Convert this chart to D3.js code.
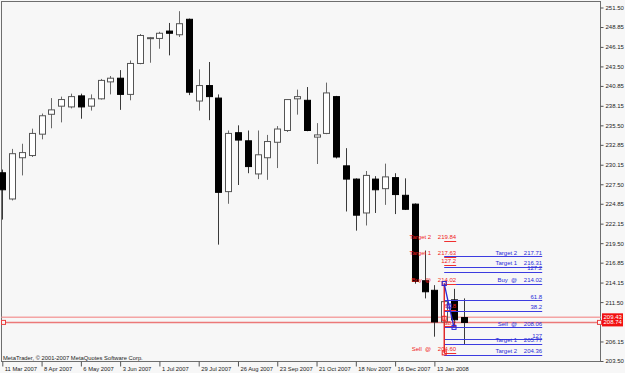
<!DOCTYPE html>
<html>
<head>
<meta charset="utf-8">
<script src="https://cdnjs.cloudflare.com/ajax/libs/d3/7.8.5/d3.min.js"></script>
<style>
  body { margin: 0; background: #f7f7f7; }
  svg { display: block; font-family: "Liberation Sans", Arial, sans-serif; }
</style>
</head>
<body>
<script>
//wrap everything in a self-executing function
(function(){

    //weekly bars, 11 Mar 2007 .. 3 Feb 2008
    var opens  = [229.06, 225.5, 231.1, 231.4, 234.3, 237.0, 238.1, 238.0, 239.5, 238.1, 239.1, 241.4,
                  241.9, 239.7, 243.9, 247.3, 247.3, 248.3, 247.8, 249.9, 238.8, 240.9, 239.2, 226.5,
                  234.5, 233.4, 228.9, 231.1, 233.2, 234.8, 239.1, 238.9, 233.9, 234.4, 239.4, 230.0,
                  228.2, 223.6, 228.2, 226.9, 228.4, 226.0, 224.8, 214.4, 213.1, 208.8, 211.8, 209.4];
    var highs  = [229.5, 232.3, 233.0, 235.05, 237.1, 239.2, 239.4, 239.8, 239.8, 239.7, 241.8, 242.2,
                  243.0, 244.3, 247.9, 247.5, 248.2, 249.4, 251.0, 250.0, 243.1, 244.1, 239.7, 234.8,
                  235.5, 234.8, 234.8, 234.2, 235.4, 239.0, 240.35, 240.7, 235.8, 241.3, 239.5, 232.4,
                  228.3, 229.3, 228.6, 230.3, 229.0, 228.3, 224.9, 218.5, 213.8, 214.02, 213.3, 212.0];
    var lows   = [222.7, 225.3, 228.7, 231.2, 233.6, 235.1, 235.9, 237.8, 236.4, 237.5, 239.0, 239.7,
                  237.6, 238.9, 243.8, 244.0, 245.9, 245.0, 247.5, 239.6, 237.5, 236.2, 219.3, 224.85,
                  227.4, 229.0, 228.2, 228.1, 229.7, 234.6, 236.95, 234.7, 230.25, 234.3, 231.0, 223.8,
                  221.2, 221.9, 223.6, 224.7, 223.45, 224.0, 214.0, 212.0, 206.8, 204.6, 208.06, 205.7];
    var closes = [226.75, 231.65, 231.8, 234.4, 236.8, 237.6, 239.0, 239.4, 238.0, 239.1, 241.6, 241.9,
                  239.7, 243.9, 247.7, 247.4, 248.0, 248.0, 249.3, 240.0, 240.9, 239.4, 226.4, 234.4,
                  233.5, 229.9, 231.5, 233.3, 235.0, 239.0, 239.4, 234.8, 234.2, 239.9, 231.2, 228.2,
                  223.3, 228.7, 226.75, 228.5, 226.1, 224.1, 214.3, 212.9, 208.8, 211.56, 209.1, 208.74];

    //time axis labels, every 4th bar
    var dateTickIndex = [0, 4, 8, 12, 16, 20, 24, 28, 32, 36, 40, 44];
    var dateLabels = ["11 Mar 2007", "8 Apr 2007", "6 May 2007", "3 Jun 2007", "1 Jul 2007", "29 Jul 2007",
                      "26 Aug 2007", "23 Sep 2007", "21 Oct 2007", "18 Nov 2007", "16 Dec 2007", "13 Jan 2008"];

    //price scale labels
    var priceTicks = [251.50, 248.85, 246.15, 243.50, 240.85, 238.15, 235.50, 232.85, 230.15, 227.50,
                      224.85, 222.15, 219.50, 216.85, 214.15, 211.50, 206.15, 203.50];

    //ask / bid lines
    var askPrice = 209.43, bidPrice = 208.74;

    //red fibo levels (set on the 20 Jan 2008 bar)
    var redNames  = ["Target 2", "Target 1", "127.2", "Buy  @", "61.8", "38.2", "Sell  @"];
    var redValues = [219.84, 217.63, 216.58, 214.02, 210.42, 208.20, 204.60];
    var redShowValue = [true, true, false, true, false, false, true];

    //blue fibo levels
    var blueNames  = ["Target 2", "Target 1", "127.2", "Buy  @", "61.8", "38.2", "Sell  @", "127", "Target 1", "Target 2"];
    var blueValues = [217.71, 216.31, 215.64, 214.02, 211.74, 210.34, 208.06, 206.44, 205.77, 204.36];
    var blueShowValue = [true, true, false, true, false, false, true, false, true, true];

    //zigzag points [bar index, price]
    var redZigzag  = [[45, 214.02], [45, 209.30], [45, 204.60]];
    var blueZigzag = [[45, 214.02], [45.5, 210.97], [46, 208.06]];

    var width = 625, height = 373;
    var plotLeft = 1.5, plotRight = 600.5, plotTop = 1.5, plotBottom = 361.5;

    var svg = d3.select("body")
        .append("svg")
        .attr("width", width)
        .attr("height", height);

    svg.append("rect")
        .attr("width", width)
        .attr("height", height)
        .attr("fill", "#f7f7f7");

    //scales
    var x = d3.scaleLinear()
        .domain([0, 47])
        .range([2.3, 2.3 + 9.82 * 47]);

    var y = d3.scaleLinear()
        .domain([203.5, 251.5])
        .range([361, 7.5]);

    var bars = d3.range(opens.length).map(function(i){
        return {i: i, o: opens[i], h: highs[i], l: lows[i], c: closes[i]};
    });

    //frame
    svg.append("rect")
        .attr("x", plotLeft)
        .attr("y", plotTop)
        .attr("width", plotRight - plotLeft)
        .attr("height", plotBottom - plotTop)
        .attr("fill", "none")
        .attr("stroke", "#6e6e6e")
        .attr("stroke-width", 1);

    //ask and bid lines
    svg.append("line")
        .attr("x1", plotLeft).attr("x2", plotRight)
        .attr("y1", y(askPrice)).attr("y2", y(askPrice))
        .attr("stroke", "#f4a4a4").attr("stroke-width", 1.5);
    svg.append("line")
        .attr("x1", plotLeft).attr("x2", plotRight)
        .attr("y1", y(bidPrice)).attr("y2", y(bidPrice))
        .attr("stroke", "#ec7878").attr("stroke-width", 1.5);
    [plotLeft + 2, plotRight - 1].forEach(function(px){
        svg.append("rect")
            .attr("x", px - 2).attr("y", y(bidPrice) - 2)
            .attr("width", 4).attr("height", 4)
            .attr("fill", "#f7f7f7").attr("stroke", "#e84040").attr("stroke-width", 1);
    });

    //candles
    var candles = svg.selectAll(".candle")
        .data(bars)
        .enter()
        .append("g")
        .attr("class", "candle");

    candles.append("line")
        .attr("x1", function(d){ return Math.round(x(d.i)) + 0.5; })
        .attr("x2", function(d){ return Math.round(x(d.i)) + 0.5; })
        .attr("y1", function(d){ return y(d.h); })
        .attr("y2", function(d){ return y(d.l); })
        .attr("stroke", function(d){ return d.c >= d.o ? "#6a6a6a" : "#3a3a3a"; })
        .attr("stroke-width", 1);

    candles.append("rect")
        .attr("x", function(d){ return Math.round(x(d.i)) - 2.5; })
        .attr("y", function(d){ return y(Math.max(d.o, d.c)); })
        .attr("width", 6)
        .attr("height", function(d){ return Math.max(1, Math.abs(y(d.o) - y(d.c))); })
        .attr("fill", function(d){ return d.c >= d.o ? "#ffffff" : "#000000"; })
        .attr("stroke", function(d){ return d.c >= d.o ? "#555555" : "#000000"; })
        .attr("stroke-width", 1);

    //fibo levels
    var fiboStart = x(45);

    function drawLevels(names, values, showValue, lineLength, color, lineColor){
        var lineEnd = fiboStart + lineLength;
        var g = svg.append("g");
        values.forEach(function(v, k){
            g.append("line")
                .attr("x1", fiboStart).attr("x2", lineEnd)
                .attr("y1", Math.round(y(v)) + 0.5).attr("y2", Math.round(y(v)) + 0.5)
                .attr("stroke", lineColor).attr("stroke-width", 1);
            if (showValue[k]){
                g.append("text")
                    .attr("x", lineEnd - 25).attr("y", y(v) - 1.8)
                    .attr("text-anchor", "end")
                    .attr("font-size", 6)
                    .attr("fill", color)
                    .style("white-space", "pre")
                    .text(names[k]);
                g.append("text")
                    .attr("x", lineEnd).attr("y", y(v) - 1.8)
                    .attr("text-anchor", "end")
                    .attr("font-size", 6)
                    .attr("fill", color)
                    .text(d3.format(".2f")(v));
            } else {
                g.append("text")
                    .attr("x", lineEnd).attr("y", y(v) - 1.8)
                    .attr("text-anchor", "end")
                    .attr("font-size", 6)
                    .attr("fill", color)
                    .text(names[k]);
            }
        });
    }

    drawLevels(blueNames, blueValues, blueShowValue, 98, "#2a2ad8", "#3c3ce0");
    drawLevels(redNames, redValues, redShowValue, 12, "#f01c1c", "#f03030");

    //zigzags
    function drawZigzag(points, color){
        var line = d3.line()
            .x(function(p){ return x(p[0]); })
            .y(function(p){ return y(p[1]); });
        svg.append("path")
            .attr("d", line(points))
            .attr("fill", "none")
            .attr("stroke", color)
            .attr("stroke-width", 1.3);
        svg.selectAll(null)
            .data(points)
            .enter()
            .append("rect")
            .attr("x", function(p){ return x(p[0]) - 2; })
            .attr("y", function(p){ return y(p[1]) - 2; })
            .attr("width", 4).attr("height", 4)
            .attr("fill", "none")
            .attr("stroke", color)
            .attr("stroke-width", 1);
    }
    drawZigzag(redZigzag, "#f02020");
    drawZigzag(blueZigzag, "#2a2ad8");

    //price axis
    var yAxis = d3.axisRight(y)
        .tickValues(priceTicks)
        .tickFormat(d3.format(".2f"))
        .tickSize(3)
        .tickPadding(2);

    var yAxisG = svg.append("g")
        .attr("transform", "translate(" + plotRight + ",0)")
        .call(yAxis);
    yAxisG.select(".domain").remove();
    yAxisG.selectAll("line").attr("stroke", "#555");
    yAxisG.selectAll("text")
        .attr("font-size", 6)
        .attr("font-family", "Liberation Sans, Arial, sans-serif")
        .attr("fill", "#222");

    //ask/bid labels on the axis
    svg.append("rect")
        .attr("x", plotRight + 1.5).attr("y", y(askPrice) - 4)
        .attr("width", 21).attr("height", y(bidPrice) - y(askPrice) + 8)
        .attr("fill", "#f21010");
    [askPrice, bidPrice].forEach(function(v){
        svg.append("text")
            .attr("x", plotRight + 3).attr("y", y(v) + 2)
            .attr("font-size", 6)
            .attr("fill", "#ffffff")
            .text(d3.format(".2f")(v));
    });

    //time axis
    var xAxis = d3.axisBottom(x)
        .tickValues(dateTickIndex)
        .tickFormat(function(d, k){ return dateLabels[k]; })
        .tickSize(5)
        .tickPadding(0);

    var xAxisG = svg.append("g")
        .attr("transform", "translate(0," + plotBottom + ")")
        .call(xAxis);
    xAxisG.select(".domain").remove();
    xAxisG.selectAll("line").attr("stroke", "#555");
    xAxisG.selectAll("text")
        .attr("text-anchor", "start")
        .attr("dx", 2)
        .attr("dy", 0)
        .attr("y", 9)
        .attr("font-size", 5.8)
        .attr("font-family", "Liberation Sans, Arial, sans-serif")
        .attr("fill", "#222");

    //copyright
    svg.append("text")
        .attr("x", 3)
        .attr("y", 359.5)
        .attr("font-size", 5.8)
        .attr("fill", "#222")
        .text("MetaTrader, \u00a9 2001-2007 MetaQuotes Software Corp.");

})();
</script>
</body>
</html>
